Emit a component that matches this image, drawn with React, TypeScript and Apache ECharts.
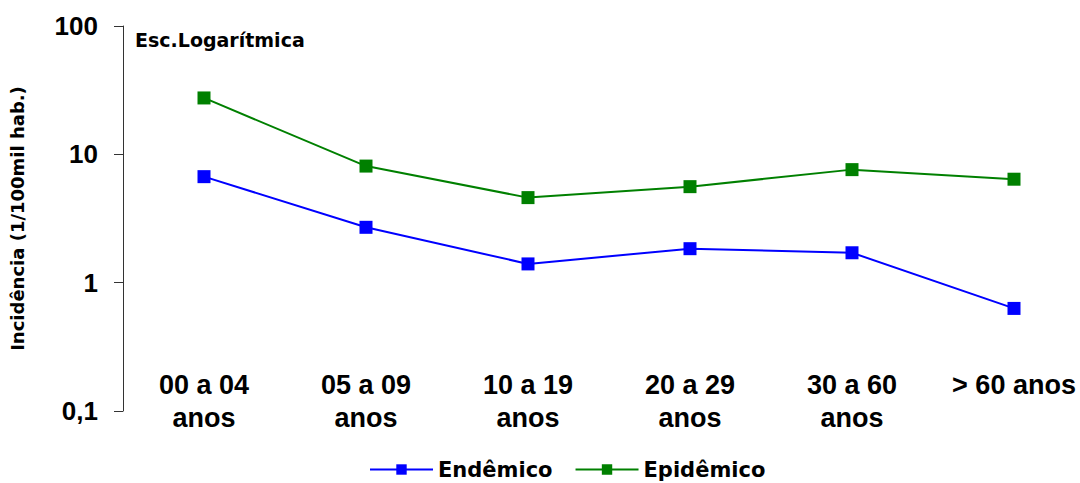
import React, { useEffect, useRef } from "react";
import * as echarts from "echarts";

const categories = ["00 a 04\nanos", "05 a 09\nanos", "10 a 19\nanos", "20 a 29\nanos", "30 a 60\nanos", "> 60 anos"];
const endemico = [6.7, 2.7, 1.4, 1.84, 1.71, 0.63];
const epidemico = [27.5, 8.1, 4.6, 5.6, 7.6, 6.4];
const yTickLabels: Record<string, string> = { "0.1": "0,1", "1": "1", "10": "10", "100": "100" };

export default function App() {
  const ref = useRef<HTMLDivElement>(null);
  useEffect(() => {
    const chart = echarts.init(ref.current!, null, { renderer: "svg" });
    const font = "'Liberation Sans', Arial, sans-serif";
    const wide = "'DejaVu Sans', sans-serif";
    chart.setOption({
      animation: false,
      textStyle: { fontFamily: font },
      grid: { left: 123, top: 26, bottom: 72, right: 0, containLabel: false },
      title: {
        text: "Esc.Logarítmica",
        left: 135,
        top: 30,
        padding: 0,
        textStyle: { fontFamily: wide, fontSize: 19, fontWeight: "bold", color: "#000" },
      },
      legend: {
        top: 459,
        left: 369,
        padding: 0,
        itemWidth: 63,
        itemHeight: 13,
        itemGap: 22,
        textStyle: { fontFamily: wide, fontSize: 21, fontWeight: "bold", color: "#000" },
        data: ["Endêmico", "Epidêmico"],
      },
      xAxis: {
        type: "category",
        data: categories,
        boundaryGap: true,
        axisLine: { show: false },
        axisTick: { show: false },
        splitLine: { show: false },
        axisLabel: {
          margin: -43,
          interval: 0,
          fontFamily: font,
          fontSize: 27,
          fontWeight: "bold",
          color: "#000",
          lineHeight: 33,
        },
      },
      yAxis: {
        type: "log",
        logBase: 10,
        min: 0.1,
        max: 100,
        name: "Incidência (1/100mil hab.)",
        nameLocation: "middle",
        nameGap: 97,
        nameRotate: 90,
        nameTextStyle: { fontFamily: wide, fontSize: 18, fontWeight: "bold", color: "#000" },
        axisLine: { show: true, lineStyle: { color: "#333", width: 1 } },
        axisTick: { show: true, length: 9, lineStyle: { color: "#333" } },
        splitLine: { show: false },
        axisLabel: {
          margin: 25,
          fontFamily: font,
          fontSize: 26,
          fontWeight: "bold",
          color: "#000",
          formatter: (v: number) => yTickLabels[String(v)] ?? String(v),
        },
      },
      series: [
        {
          name: "Endêmico",
          type: "line",
          data: endemico,
          symbol: "rect",
          symbolSize: 13,
          color: "#0000ff",
          lineStyle: { color: "#0000ff", width: 2 },
          itemStyle: { color: "#0000ff" },
        },
        {
          name: "Epidêmico",
          type: "line",
          data: epidemico,
          symbol: "rect",
          symbolSize: 13,
          color: "#008000",
          lineStyle: { color: "#008000", width: 2 },
          itemStyle: { color: "#008000" },
        },
      ],
    });
    return () => chart.dispose();
  }, []);
  return (
    <div style={{ width: 1080, height: 483, position: "absolute", left: 0, top: 0, overflow: "hidden" }}>
      <div ref={ref} style={{ width: 1095, height: 483 }} />
    </div>
  );
}
